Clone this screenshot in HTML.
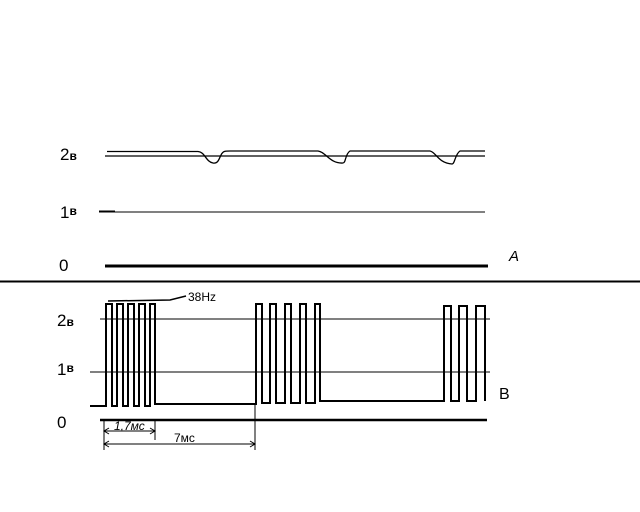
<!DOCTYPE html>
<html><head><style>html,body{margin:0;padding:0;background:#fff}svg{display:block}text{font-family:"Liberation Sans","DejaVu Sans",sans-serif;fill:#000}</style></head>
<body>
<svg width="640" height="512" viewBox="0 0 640 512" xmlns="http://www.w3.org/2000/svg">
<rect width="640" height="512" fill="#fff"/>
<g fill="none" stroke="#000">
<path d="M107 151.5 H198 C205 152 206 162 213 163 C218 164 219 159 221 155 C223 151 225 151 230 151 H318 C326 152 330 164 343 163 C346 163 345 154 350 151 H430 C436 152 438 163 452 164 C455 164 455 154 460 151 H485" stroke-width="1.3"/>
<line x1="105" y1="156" x2="485" y2="156" stroke-width="1.2"/>
<line x1="100" y1="212" x2="485" y2="212" stroke-width="1"/>
<line x1="99" y1="211.5" x2="115" y2="211.5" stroke-width="2"/>
<line x1="105" y1="266" x2="488" y2="266" stroke-width="3"/>
<line x1="0" y1="281.5" x2="640" y2="281.5" stroke-width="2"/>
<line x1="100" y1="319" x2="490" y2="319" stroke-width="1"/>
<line x1="90" y1="372" x2="490" y2="372" stroke-width="1"/>
<line x1="100" y1="420" x2="487" y2="420" stroke-width="2.5"/>
<path d="M90 406 H106 V304 H112 V406 H117 V304 H123 V406 H128 V304 H134 V406 H139 V304 H145 V406 H150 V304 H155 V404 H256 V304 H262 V403 H270 V304 H276 V403 H285 V304 H291 V403 H300 V304 H306 V403 H315 V304 H320 V401 H444 V306 H451 V401 H459 V306 H467 V401 H476 V306 H485 V401" stroke-width="2"/>
<path d="M108 301 L170 300 L186 296" stroke-width="1.5"/>
<line x1="104" y1="420" x2="104" y2="450" stroke-width="1"/>
<line x1="155" y1="420" x2="155" y2="440" stroke-width="1"/>
<line x1="255" y1="404" x2="255" y2="450" stroke-width="1"/>
<line x1="104" y1="431" x2="155" y2="431" stroke-width="1"/>
<path d="M109 428 L104 431 L109 434 M150 428 L155 431 L150 434" stroke-width="1"/>
<line x1="104" y1="444" x2="255" y2="444" stroke-width="1"/>
<path d="M109 441 L104 444 L109 447 M250 441 L255 444 L250 447" stroke-width="1"/>
</g>
<text x="60" y="160" font-size="17">2<tspan font-size="12" font-weight="bold">в</tspan></text>
<text x="60" y="218" font-size="17">1<tspan font-size="12" font-weight="bold" dy="-3">в</tspan></text>
<text x="59" y="271" font-size="17">0</text>
<text x="509" y="261" font-size="15" font-style="italic">A</text>
<text x="57" y="326" font-size="17">2<tspan font-size="12" font-weight="bold">в</tspan></text>
<text x="57" y="375" font-size="17">1<tspan font-size="12" font-weight="bold" dy="-3">в</tspan></text>
<text x="57" y="428" font-size="17">0</text>
<text x="499" y="399" font-size="16">B</text>
<text x="188" y="301" font-size="12">38Hz</text>
<text x="114" y="430" font-size="12" font-style="italic">1,7мс</text>
<text x="174" y="442" font-size="12">7мс</text>
</svg>
</body></html>
